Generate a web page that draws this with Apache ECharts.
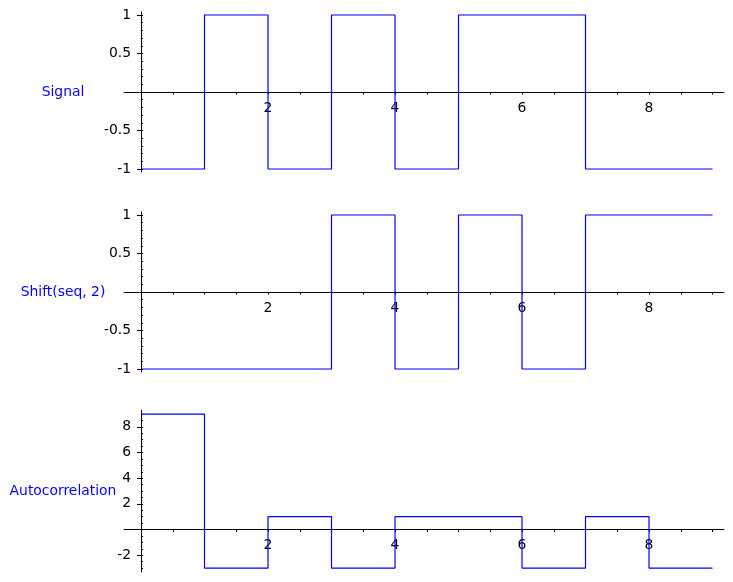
<!DOCTYPE html>
<html>
<head>
<meta charset="utf-8">
<script src="https://cdn.jsdelivr.net/npm/echarts@6/dist/echarts.min.js"></script>
<style>
html,body{margin:0;padding:0;background:#fff;}
#chart{width:733px;height:582px;}
</style>
</head>
<body>
<div id="chart"></div>
<script>
// ---- data ----
const stepStarts = [0, 1, 2, 3, 4, 5, 6, 7, 8];
const stepEnd = 9;
const signal = [-1, 1, -1, 1, -1, 1, 1, -1, -1];
const shifted = [-1, -1, -1, 1, -1, 1, -1, 1, 1];
const autocorr = [9, -3, 1, -3, 1, 1, -3, 1, -3];
const panelNames = ['Signal', 'Shift(seq, 2)', 'Autocorrelation'];
const xTickLabels = [2, 4, 6, 8];
const xTickStep = 0.5;
const yLabelsSmall = [-1, -0.5, 0.5, 1];
const yLabelsAuto = [-2, 2, 4, 6, 8];

// ---- helpers ----
function range(a, b, step) {
  const out = [];
  const n = Math.round((b - a) / step);
  for (let i = 0; i <= n; i++) out.push(+(a + i * step).toFixed(6));
  return out;
}
function stepPoints(values) {
  const pts = stepStarts.map((x, i) => [x, values[i]]);
  pts.push([stepEnd, values[values.length - 1]]);
  return pts;
}

const FONT = 'DejaVu Sans';
const FS = 13.9;
const BLUE = '#0000ff';
const xTicks = range(0, 9, xTickStep);
const X_MIN = -0.268, X_MAX = 9.181;
const GRID_LEFT = 124, GRID_RIGHT = 9, CHART_W = 733;
const plotW = CHART_W - GRID_LEFT - GRID_RIGHT;
const yAxisPx = GRID_LEFT + plotW * (0 - X_MIN) / (X_MAX - X_MIN);

const panels = [
  { values: signal, yMin: -1.04, yMax: 1.04, labels: yLabelsSmall,
    major: [-1, -0.5, 0.5, 1], minor: range(-1, 1, 0.1), top: 11.9, height: 160.2 },
  { values: shifted, yMin: -1.04, yMax: 1.04, labels: yLabelsSmall,
    major: [-1, -0.5, 0.5, 1], minor: range(-1, 1, 0.1), top: 211.9, height: 160.2 },
  { values: autocorr, yMin: -3.3, yMax: 9.3, labels: yLabelsAuto,
    major: [-2, 2, 4, 6, 8], minor: range(-3, 9, 0.5), top: 410.2, height: 161.7 }
];

const grid = [], xAxis = [], yAxis = [], series = [], graphic = [];
panels.forEach((p, i) => {
  const zeroPx = p.top + p.height * (p.yMax - 0) / (p.yMax - p.yMin);
  const belowZero = p.top + p.height - zeroPx;
  grid.push({ left: GRID_LEFT, right: GRID_RIGHT, top: p.top, height: p.height,
    containLabel: false, outerBoundsMode: 'none' });
  xAxis.push({
    type: 'value', gridIndex: i, min: X_MIN, max: X_MAX,
    splitLine: { show: false },
    axisLine: { show: true, onZero: true, onZeroAxisIndex: i * 2, lineStyle: { color: '#000', width: 1 } },
    axisTick: { show: true, inside: false, length: 2.5, customValues: xTicks, lineStyle: { color: '#000' } },
    axisLabel: { show: true, customValues: xTickLabels, margin: 9 - belowZero, color: '#000',
      fontFamily: FONT, fontSize: FS, hideOverlap: false }
  });
  yAxis.push({
    type: 'value', gridIndex: i, min: p.yMin, max: p.yMax,
    splitLine: { show: false },
    axisLine: { show: true, onZero: true, onZeroAxisIndex: i, lineStyle: { color: '#000', width: 1 } },
    axisTick: { show: true, inside: false, length: 4, customValues: p.major, lineStyle: { color: '#000' } },
    axisLabel: { show: true, customValues: p.labels, margin: 10 - (yAxisPx - GRID_LEFT), color: '#000',
      fontFamily: FONT, fontSize: FS, hideOverlap: false }
  });
  yAxis.push({
    type: 'value', gridIndex: i, min: p.yMin, max: p.yMax,
    splitLine: { show: false },
    axisLine: { show: false, onZero: true, onZeroAxisIndex: i },
    axisTick: { show: true, inside: false, length: 2, customValues: p.minor, lineStyle: { color: '#000' } },
    axisLabel: { show: false }
  });
  series.push({
    type: 'line', xAxisIndex: i, yAxisIndex: i * 2, step: 'end',
    data: stepPoints(p.values), symbol: 'none', silent: true,
    lineStyle: { color: BLUE, width: 1.2 }, z: 5
  });
  graphic.push({
    type: 'text', x: 63, y: p.top + p.height / 2,
    style: { text: panelNames[i], fill: BLUE, font: FS + 'px "' + FONT + '"',
      align: 'center', verticalAlign: 'middle' }
  });
});

const chart = echarts.init(document.getElementById('chart'), null, { renderer: 'canvas' });
chart.setOption({
  animation: false,
  backgroundColor: '#fff',
  textStyle: { fontFamily: FONT },
  grid, xAxis, yAxis, series, graphic
});
</script>
</body>
</html>
